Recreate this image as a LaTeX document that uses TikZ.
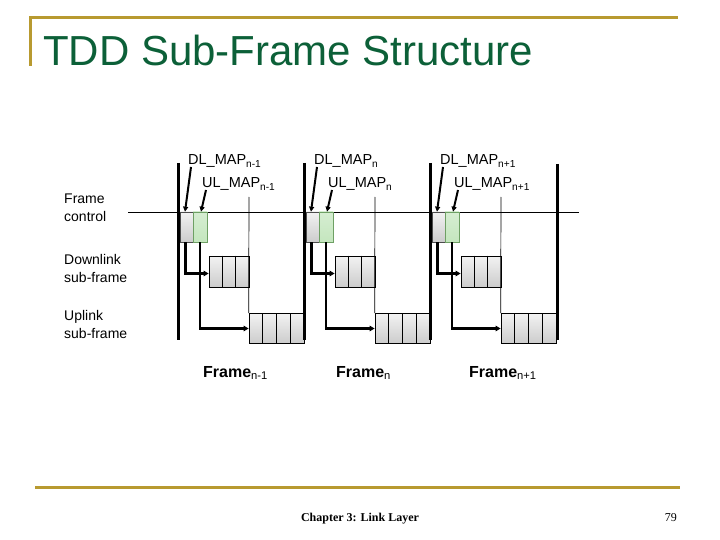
\documentclass[tikz,border=0pt]{standalone}
\usepackage{fontspec}
\setmainfont{Liberation Sans}
\newfontfamily\footfont{Liberation Serif}
\usetikzlibrary{arrows.meta,calc}
\definecolor{gold}{RGB}{184,154,48}
\definecolor{titlegreen}{RGB}{12,96,56}
\definecolor{boxgreen}{RGB}{196,230,190}
\definecolor{boxgreenline}{RGB}{110,160,100}
\tikzset{
  bar/.style={line width=3pt},
  thinline/.style={line width=0.7pt},
  conn/.style={line width=2.2pt,-{Triangle[length=5pt,width=5.5pt]}},
  ptr/.style={line width=2pt,-{Triangle[length=5pt,width=5pt]}},
  graybox/.style={draw=black!70,line width=0.6pt,top color=gray!10,bottom color=gray!40,minimum width=13pt,minimum height=30pt,inner sep=0pt},
  greenbox/.style={draw=boxgreenline,line width=0.6pt,top color=boxgreen!70,bottom color=boxgreen,minimum width=14pt,minimum height=30pt,inner sep=0pt},
  dlbox/.style={draw=black,line width=0.7pt,top color=gray!10,bottom color=gray!40,minimum width=40pt,minimum height=31pt,inner sep=0pt},
  ulbox/.style={draw=black,line width=0.7pt,top color=gray!10,bottom color=gray!40,minimum width=55pt,minimum height=30pt,inner sep=0pt},
  lab/.style={font=\fontsize{14.5pt}{18pt}\selectfont,inner sep=0pt,anchor=base west},
  sidelab/.style={font=\fontsize{14pt}{18pt}\selectfont,inner sep=0pt,align=left,anchor=north west},
  framelab/.style={font=\fontsize{16pt}{18pt}\selectfont\bfseries,inner sep=0pt,anchor=base west},
}
\begin{document}
\begin{tikzpicture}[x=1pt,y=-1pt]
\useasboundingbox (0,0) rectangle (720,540);
% header / footer
\draw[gold,line width=3pt] (30,18) -- (678,18);
\draw[gold,line width=3pt] (30,16.5) -- (30,66);
\node[font=\fontsize{42pt}{44pt}\selectfont,text=titlegreen,anchor=base west,inner sep=0pt] (title) at (43,66) {TDD Sub-Frame Structure};
\draw[gold,line width=3pt] (35,487) -- (680,487);
\node[font=\footfont\bfseries\fontsize{12pt}{13pt}\selectfont,anchor=base,inner sep=0pt] (foot) at (360,521) {Chapter 3: Link Layer};
\node[font=\footfont\fontsize{12pt}{13pt}\selectfont,anchor=base east,inner sep=0pt] (page) at (677,521) {79};
% side labels
\node[sidelab] (fcl) at (64,194) {Frame\\control};
\node[sidelab] (dll) at (64,254) {Downlink\\sub-frame};
\node[sidelab] (ull) at (64,310) {Uplink\\sub-frame};
% time axis
\draw[thinline] (128,212) -- (579,212);
% right bar
\draw[bar] (557,164) -- (557,340);
\foreach \i/\b/\s/\f in {1/178/n-1/203, 2/304/n/336, 3/430/n+1/469} {
  \draw[bar] (\b,163) -- (\b,340);
  \node[graybox] (fc\i) at (\b+8.5,227) {};
  \node[greenbox] (fg\i) at (\b+22,227) {};
  \node[dlbox] (dl\i) at (\b+51,271.5) {};
  \draw[thinline] ($(dl\i.north west)+(13.3,0)$) -- ($(dl\i.south west)+(13.3,0)$);
  \draw[thinline] ($(dl\i.north west)+(26.7,0)$) -- ($(dl\i.south west)+(26.7,0)$);
  \node[ulbox] (ul\i) at (\b+98.5,328.5) {};
  \foreach \k in {13.75,27.5,41.25} {
    \draw[thinline] ($(ul\i.north west)+(\k,0)$) -- ($(ul\i.south west)+(\k,0)$);
  }
  % DL / UL boundary
  \draw[thinline] (\b+71,197) -- (ul\i.north west);
  % maps
  \node[lab] (dm\i) at (\b+10,165) {DL\_MAP\textsubscript{\s}};
  \node[lab] (um\i) at (\b+24,188) {UL\_MAP\textsubscript{\s}};
  \draw[ptr] ([xshift=3pt,yshift=-2pt]dm\i.base west) -- ([xshift=-1.5pt]fc\i.north);
  \draw[ptr] ([xshift=4pt,yshift=-2pt]um\i.base west) -- ([xshift=1pt]fg\i.north);
  % pointers to sub-frames
  \draw[conn] ([xshift=-1pt]fc\i.south) |- ([yshift=-2pt]dl\i.west);
  \draw[conn] (fg\i.south) |- (ul\i.west);
  % frame label
  \node[framelab] (fr\i) at (\f,377) {Frame\textsubscript{\normalfont\s}};
}
\end{tikzpicture}
\end{document}
